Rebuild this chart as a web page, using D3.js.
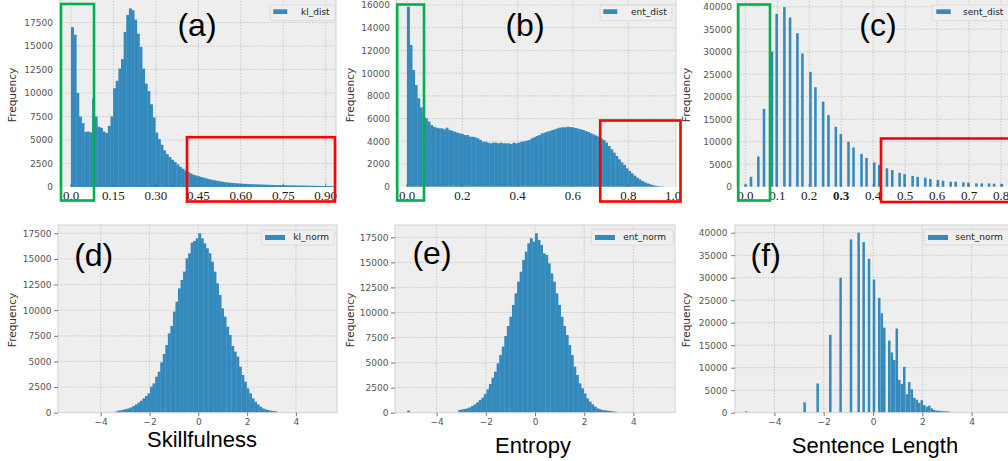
<!DOCTYPE html>
<html>
<head>
<meta charset="utf-8">
<script src="https://cdnjs.cloudflare.com/ajax/libs/d3/7.8.5/d3.min.js"></script>
<style>
    body { margin: 0; background: #fff; }
    svg { display: block; }
</style>
</head>
<body>
<div id="chart"></div>
<script>

// ---- data -------------------------------------------------------------

var seriesNames = ['kl_dist', 'ent_dist', 'sent_dist', 'kl_norm', 'ent_norm', 'sent_norm'];
var panelLetters = ['(a)', '(b)', '(c)', '(d)', '(e)', '(f)'];
var axisTitles = ['Skillfulness', 'Entropy', 'Sentence Length'];

// (a) kl_dist: 100 bins from 0
var klDistBinStart = 0;
var klDistBinWidth = 0.0093;
var klDistCounts = [
    17000, 16200, 10000, 7500, 6800, 5850, 5900, 5800, 9400, 7500,
    6400, 6300, 5900, 5750, 6500, 7500, 10500, 11300, 12600, 13600,
    16500, 18300, 19000, 18800, 17800, 16300, 14900, 12600, 11000, 10200,
    8800, 7400, 5800, 5100, 4500, 3900, 3500, 3200, 2900, 2650,
    2400, 2150, 1950, 1750, 1600, 1450, 1300, 1220, 1150, 1060,
    980, 900, 830, 770, 710, 660, 610, 560, 520, 480,
    450, 430, 400, 380, 360, 340, 330, 310, 300, 290,
    280, 270, 260, 250, 240, 230, 220, 210, 200, 200,
    190, 180, 175, 170, 165, 160, 155, 150, 145, 140,
    135, 130, 125, 120, 115, 110, 105, 100, 95, 90
];
var klDistXTicks = [0, 0.15, 0.30, 0.45, 0.60, 0.75, 0.90];
var klDistXLabels = ['0.0', '0.15', '0.30', '0.45', '0.60', '0.75', '0.90'];
var klDistYTicks = [0, 2500, 5000, 7500, 10000, 12500, 15000, 17500];

// (b) ent_dist: 100 bins from 0
var entDistBinStart = 0;
var entDistBinWidth = 0.0093;
var entDistCounts = [
    15850, 12480, 10280, 8950, 7780, 6990, 6170, 6020, 5730, 5430,
    5280, 5200, 5140, 5140, 5050, 5200, 4990, 4930, 4840, 4760,
    4700, 4640, 4550, 4550, 4400, 4400, 4350, 4260, 4110, 3960,
    3960, 3880, 3820, 3880, 3880, 3820, 3880, 3820, 3820, 3820,
    3760, 3880, 3820, 3880, 3960, 4000, 4050, 4110, 4260, 4350,
    4460, 4550, 4700, 4760, 4840, 4900, 4990, 5050, 5140, 5200,
    5230, 5230, 5280, 5250, 5230, 5170, 5110, 5050, 4990, 4900,
    4810, 4700, 4600, 4500, 4400, 4260, 4110, 3880, 3580, 3290,
    3000, 2700, 2410, 2140, 1910, 1620, 1380, 1170, 970, 790,
    650, 500, 380, 290, 210, 150, 90, 60, 30, 15
];
var entDistXTicks = [0, 0.2, 0.4, 0.6, 0.8, 1.0];
var entDistXLabels = ['0.0', '0.2', '0.4', '0.6', '0.8', '1.0'];
var entDistYTicks = [0, 2000, 4000, 6000, 8000, 10000, 12000, 14000, 16000];

// (c) sent_dist: discrete lengths, bar centres and counts
var sentDistBinWidth = 0.008;
var sentDistValues = [
    0.001, 0.0178, 0.0408, 0.0585, 0.0836, 0.0982, 0.1223, 0.1400, 0.1630, 0.1787,
    0.2038, 0.2194, 0.2435, 0.2602, 0.2832, 0.2989, 0.3229, 0.3386, 0.3636, 0.3793,
    0.4033, 0.4190, 0.4431, 0.4598, 0.4828, 0.4984, 0.5235, 0.5392, 0.5632, 0.5789,
    0.6029, 0.6186, 0.6426, 0.6583, 0.6823, 0.6980, 0.7231, 0.7398, 0.7628, 0.7785,
    0.8025
];
var sentDistCounts = [
    500, 2200, 6700, 17300, 30000, 38400, 39900, 37600, 34100, 29600,
    25500, 22100, 18900, 15900, 13300, 11700, 10000, 8700, 7300, 6400,
    5400, 4800, 4100, 3700, 3100, 2800, 2400, 2200, 2000, 1700,
    1500, 1330, 1100, 1100, 960, 890, 740, 740, 740, 670,
    600
];
var sentDistXTicks = [0, 0.1, 0.2, 0.3, 0.4, 0.5, 0.6, 0.7, 0.8];
var sentDistXLabels = ['0.0', '0.1', '0.2', '0.3', '0.4', '0.5', '0.6', '0.7', '0.8'];
var sentDistYTicks = [0, 5000, 10000, 15000, 20000, 25000, 30000, 35000, 40000];

// (d) kl_norm: bins of 0.104, first non-empty bin at -3.432
var klNormBinStart = -3.432;
var klNormBinWidth = 0.104;
var klNormCounts = [
    100, 200, 230, 290, 360, 420, 520, 650, 810, 980,
    1170, 1400, 1630, 1890, 2540, 2860, 3510, 4000, 4910, 5730,
    6600, 7740, 8460, 9860, 10830, 12130, 12950, 13760, 15060, 15550,
    16590, 16750, 17010, 17500, 17010, 16520, 16040, 15550, 14740, 13760,
    12620, 11480, 10180, 9370, 8390, 7580, 6510, 5950, 5470, 4490,
    3680, 3030, 2370, 1890, 1400, 1070, 810, 590, 420, 330,
    260, 200, 160, 130
];

// (e) ent_norm: bins of 0.104 from -5.2
var entNormBinStart = -5.2;
var entNormBinWidth = 0.104;
var entNormCounts = [
    200, 0, 0, 0, 0, 0, 0, 0, 0, 0,
    0, 0, 0, 0, 0, 0, 0, 0, 0, 0,
    270, 330, 370, 430, 530, 670, 830, 1030, 1260, 1500,
    1860, 2330, 2860, 3490, 4090, 4920, 5750, 6590, 7650, 8650,
    9580, 10750, 11910, 13070, 14070, 15240, 16070, 16900, 17400, 17070,
    17900, 17230, 16730, 15900, 15740, 14900, 13900, 13070, 11910, 10750,
    9580, 8650, 7750, 6750, 5750, 4590, 3760, 2930, 2430, 1930,
    1430, 1100, 830, 600, 430, 330, 270, 230, 200, 170,
    130, 100
];

// (f) sent_norm: bar centres and counts
var sentNormBinWidth = 0.1015;
var sentNormValues = [
    -5.142, -2.774, -2.246, -1.732, -1.313, -0.893, -0.582, -0.379, -0.162, 0.041,
    0.254, 0.356, 0.457, 0.660, 0.762, 0.863, 0.965, 1.066, 1.168, 1.269,
    1.371, 1.472, 1.574, 1.675, 1.777, 1.878, 1.980, 2.081, 2.183, 2.284,
    2.386, 2.487, 2.589, 2.690, 2.792, 2.893, 2.995, 3.096
];
var sentNormCounts = [
    300, 2300, 6500, 17300, 30000, 38500, 40000, 37900, 34200, 29600,
    25500, 22100, 18900, 16000, 13400, 11700, 18700, 7300, 6400, 10200,
    4100, 6800, 5200, 3300, 2900, 2200, 2800, 1700, 1330, 1550,
    960, 600, 450, 440, 370, 300, 300, 220
];

var normXTicks = [-4, -2, 0, 2, 4];
var klNormYTicks = [0, 2500, 5000, 7500, 10000, 12500, 15000, 17500];
var entNormYTicks = [0, 2500, 5000, 7500, 10000, 12500, 15000, 17500];
var sentNormYTicks = [0, 5000, 10000, 15000, 20000, 25000, 30000, 35000, 40000];

// ---- styling ---------------------------------------------------------

var WIDTH = 1008;
var HEIGHT = 461;
var BAR_COLOR = '#348ABD';
var FACE_COLOR = '#eeeeee';
var GRID_COLOR = '#c2c2c2';
var FRAME_COLOR = '#d2d2d2';
var TICK_COLOR = '#555555';
var SANS = '"DejaVu Sans", sans-serif';
var ARIAL = '"Liberation Sans", Arial, sans-serif';
var SERIF = '"Liberation Serif", "Times New Roman", serif';

/**
 * Turn a list of counts on a regular bin grid into bar records.
 */
function denseBins(start, width, counts) {
    return counts.map(function (n, i) {
        return {x0: start + i * width, x1: start + (i + 1) * width, n: n, pad: 0.35};
    });
}

/**
 * Turn bar centres and counts into bar records.
 */
function sparseBins(values, width, counts) {
    return values.map(function (v, i) {
        return {x0: v - width / 2, x1: v + width / 2, n: counts[i], pad: 0};
    });
}

var panels = [
    {
        id: 'a', name: seriesNames[0], letter: panelLetters[0], top: true,
        bins: denseBins(klDistBinStart, klDistBinWidth, klDistCounts),
        box: {left: 60, right: 336, top: -2, bottom: 187},
        xAnchor: [0, 0.9], xPixels: [71, 325.7],
        yAnchor: [0, 17500], yPixels: [187, 22.5],
        xTicks: klDistXTicks, xLabels: klDistXLabels, yTicks: klDistYTicks,
        yLabelGap: 7, freqX: 15.8, freqY: 95,
        letterPos: [197, 36.3],
        legend: {x: 270, y: 5, w: 65, h: 15.7, px: 273.3, pw: 14, py: 9.3, ph: 4.7, tx: 301, ty: 15},
        marks: [
            {color: '#00b04f', x0: 61, y0: 4, x1: 94, y1: 200.5},
            {color: '#ff0000', x0: 187, y0: 137.2, x1: 335, y1: 201.5}
        ]
    },
    {
        id: 'b', name: seriesNames[1], letter: panelLetters[1], top: true,
        bins: denseBins(entDistBinStart, entDistBinWidth, entDistCounts),
        box: {left: 396, right: 676, top: -2, bottom: 187},
        xAnchor: [0, 0.8], xPixels: [407, 628.3],
        yAnchor: [0, 16000], yPixels: [186.7, 5],
        xTicks: entDistXTicks, xLabels: entDistXLabels, yTicks: entDistYTicks,
        yLabelGap: 6, freqX: 354, freqY: 95,
        letterPos: [525, 36.3],
        legend: {x: 600, y: 5, w: 72, h: 15.7, px: 603.3, pw: 14, py: 9.3, ph: 4.7, tx: 631, ty: 15},
        marks: [
            {color: '#00b04f', x0: 397.2, y0: 4.5, x1: 424, y1: 200.5},
            {color: '#ff0000', x0: 600.2, y0: 120.5, x1: 680.5, y1: 201.5}
        ]
    },
    {
        id: 'c', name: seriesNames[2], letter: panelLetters[2], top: true,
        bins: sparseBins(sentDistValues, sentDistBinWidth, sentDistCounts),
        box: {left: 737, right: 1040, top: -2, bottom: 187},
        xAnchor: [0, 0.8], xPixels: [745.3, 1001],
        yAnchor: [0, 40000], yPixels: [186.7, 6.7],
        xTicks: sentDistXTicks, xLabels: sentDistXLabels, yTicks: sentDistYTicks,
        boldLabel: '0.3',
        yLabelGap: 5, freqX: 689.5, freqY: 95,
        letterPos: [878, 36.3],
        legend: {x: 932, y: 5, w: 80, h: 15.7, px: 936.3, pw: 14.4, py: 9.3, ph: 4.7, tx: 963, ty: 15},
        marks: [
            {color: '#00b04f', x0: 738.2, y0: 4.5, x1: 770, y1: 200.5},
            {color: '#ff0000', x0: 881, y0: 138.5, x1: 1012, y1: 202}
        ]
    },
    {
        id: 'd', name: seriesNames[3], letter: panelLetters[3], top: false,
        bins: denseBins(klNormBinStart, klNormBinWidth, klNormCounts),
        box: {left: 58, right: 337, top: 225, bottom: 412.7},
        xAnchor: [0, 2], xPixels: [198.3, 247.1],
        yAnchor: [0, 17500], yPixels: [412.7, 233.3],
        xTicks: normXTicks, yTicks: klNormYTicks,
        yLabelGap: 6.5, freqX: 15.8, freqY: 320,
        letterPos: [93.7, 266.3],
        title: axisTitles[0], titlePos: [202, 447],
        legend: {x: 261.7, y: 230, w: 72.6, h: 15, px: 265, pw: 20, py: 235, ph: 5, tx: 293.3, ty: 240}
    },
    {
        id: 'e', name: seriesNames[4], letter: panelLetters[4], top: false,
        bins: denseBins(entNormBinStart, entNormBinWidth, entNormCounts),
        box: {left: 395, right: 675, top: 225, bottom: 412.7},
        xAnchor: [0, 2], xPixels: [535, 584.2],
        yAnchor: [0, 17500], yPixels: [412.7, 237.3],
        xTicks: normXTicks, yTicks: entNormYTicks,
        yLabelGap: 6.5, freqX: 354, freqY: 320,
        letterPos: [432, 264],
        title: axisTitles[1], titlePos: [533, 453],
        legend: {x: 591.7, y: 229.3, w: 81.6, h: 15.7, px: 595, pw: 20, py: 235, ph: 5, tx: 623.3, ty: 240}
    },
    {
        id: 'f', name: seriesNames[5], letter: panelLetters[5], top: false,
        bins: sparseBins(sentNormValues, sentNormBinWidth, sentNormCounts),
        box: {left: 735, right: 1040, top: 225, bottom: 412.7},
        xAnchor: [0, 2], xPixels: [873, 922.3],
        yAnchor: [0, 40000], yPixels: [412.7, 232.7],
        xTicks: normXTicks, yTicks: sentNormYTicks,
        yLabelGap: 7.5, freqX: 690, freqY: 320,
        letterPos: [765.7, 266.3],
        title: axisTitles[2], titlePos: [875, 453],
        legend: {x: 924, y: 229.3, w: 90, h: 15.7, px: 928, pw: 20, py: 235, ph: 5, tx: 955.3, ty: 240}
    }
];

/**
 * Draw one histogram panel into the svg.
 */
function drawPanel(svg, p) {
    var b = p.box;
    var x = d3.scaleLinear().domain(p.xAnchor).range(p.xPixels);
    var y = d3.scaleLinear().domain(p.yAnchor).range(p.yPixels);

    var g = svg.append('g').attr('class', 'panel panel-' + p.id);

    svg.select('defs').append('clipPath')
            .attr('id', 'clip-' + p.id)
        .append('rect')
            .attr('x', b.left)
            .attr('y', b.top)
            .attr('width', b.right - b.left)
            .attr('height', b.bottom - b.top);

    g.append('rect')
        .attr('x', b.left)
        .attr('y', b.top)
        .attr('width', b.right - b.left)
        .attr('height', b.bottom - b.top)
        .style('fill', FACE_COLOR);

    // dotted grid, under the bars
    var grid = g.append('g')
        .attr('class', 'grid')
        .attr('clip-path', 'url(#clip-' + p.id + ')')
        .style('stroke', GRID_COLOR)
        .style('stroke-width', 0.8)
        .style('stroke-dasharray', '1.6,1.4');

    grid.selectAll('line.gx')
            .data(p.xTicks)
        .enter().append('line')
            .attr('class', 'gx')
            .attr('x1', function (d) { return x(d); })
            .attr('x2', function (d) { return x(d); })
            .attr('y1', b.top)
            .attr('y2', b.bottom);

    grid.selectAll('line.gy')
            .data(p.yTicks.filter(function (d) { return d > 0; }))
        .enter().append('line')
            .attr('class', 'gy')
            .attr('x1', b.left)
            .attr('x2', b.right)
            .attr('y1', function (d) { return y(d); })
            .attr('y2', function (d) { return y(d); });

    g.append('g')
            .attr('class', 'bars')
            .attr('clip-path', 'url(#clip-' + p.id + ')')
        .selectAll('rect')
            .data(p.bins.filter(function (d) { return d.n > 0; }))
        .enter().append('rect')
            .attr('x', function (d) { return x(d.x0); })
            .attr('width', function (d) { return x(d.x1) - x(d.x0) + d.pad; })
            .attr('y', function (d) { return y(d.n); })
            .attr('height', function (d) { return y(0) - y(d.n); })
            .style('fill', BAR_COLOR);

    // light frame
    var frame = g.append('g')
        .style('stroke', FRAME_COLOR)
        .style('stroke-width', 1)
        .style('fill', 'none');
    if (p.top) {
        frame.append('path')
            .attr('d', 'M' + b.left + ',' + b.bottom + 'V' + b.top +
                'M' + b.right + ',' + b.top + 'V' + b.bottom);
    } else {
        frame.append('rect')
            .attr('x', b.left)
            .attr('y', b.top)
            .attr('width', b.right - b.left)
            .attr('height', b.bottom - b.top);
    }

    // y axis
    var yAxis = d3.axisLeft(y)
        .tickValues(p.yTicks)
        .tickFormat(d3.format('d'))
        .tickSizeOuter(0)
        .tickSizeInner(p.top ? 0 : 4)
        .tickPadding(p.top ? p.yLabelGap : p.yLabelGap - 4);

    var ya = g.append('g')
        .attr('class', 'y axis')
        .attr('transform', 'translate(' + b.left + ',0)')
        .call(yAxis);
    ya.select('.domain').remove();
    ya.selectAll('line').style('stroke', TICK_COLOR).style('stroke-width', 0.8);
    ya.selectAll('text')
        .style('font-family', SANS)
        .style('font-size', '9px')
        .style('fill', TICK_COLOR);

    // x axis
    if (p.top) {
        // serif labels under the plot, inward tick marks
        g.append('g')
                .style('stroke', '#666')
                .style('stroke-width', 0.8)
            .selectAll('line')
                .data(p.xTicks.filter(function (d) { return x(d) <= b.right; }))
            .enter().append('line')
                .attr('x1', function (d) { return x(d); })
                .attr('x2', function (d) { return x(d); })
                .attr('y1', b.bottom - 3.5)
                .attr('y2', b.bottom);

        g.append('g')
            .selectAll('text')
                .data(p.xTicks)
            .enter().append('text')
                .attr('x', function (d) { return Math.min(x(d), b.right - 3); })
                .attr('y', b.bottom + 12.5)
                .attr('text-anchor', 'middle')
                .style('font-family', SERIF)
                .style('font-size', '13px')
                .style('font-weight', function (d, i) {
                    return p.xLabels[i] === p.boldLabel ? 'bold' : 'normal';
                })
                .style('fill', '#1a1a1a')
                .text(function (d, i) { return p.xLabels[i]; });
    } else {
        var xAxis = d3.axisBottom(x)
            .tickValues(p.xTicks)
            .tickFormat(d3.format('d'))
            .tickSizeOuter(0)
            .tickSizeInner(3.5)
            .tickPadding(2.5);
        var xa = g.append('g')
            .attr('class', 'x axis')
            .attr('transform', 'translate(0,' + b.bottom + ')')
            .call(xAxis);
        xa.select('.domain').remove();
        xa.selectAll('line').style('stroke', TICK_COLOR).style('stroke-width', 0.8);
        xa.selectAll('text')
            .style('font-family', SANS)
            .style('font-size', '9px')
            .style('fill', TICK_COLOR);

        g.append('text')
            .attr('x', p.titlePos[0])
            .attr('y', p.titlePos[1])
            .attr('text-anchor', 'middle')
            .style('font-family', ARIAL)
            .style('font-size', '22px')
            .style('fill', '#000')
            .text(p.title);
    }

    g.append('text')
        .attr('transform', 'translate(' + p.freqX + ',' + p.freqY + ') rotate(-90)')
        .attr('text-anchor', 'middle')
        .style('font-family', SANS)
        .style('font-size', '10.5px')
        .style('fill', '#333')
        .text('Frequency');

    // legend
    var lg = p.legend;
    var legend = g.append('g').attr('class', 'legend');
    legend.append('rect')
        .attr('x', lg.x)
        .attr('y', lg.y)
        .attr('width', lg.w)
        .attr('height', lg.h)
        .attr('rx', 2)
        .style('fill', '#efefef')
        .style('stroke', '#d6d6d6')
        .style('stroke-width', 0.8);
    legend.append('rect')
        .attr('x', lg.px)
        .attr('y', lg.py)
        .attr('width', lg.pw)
        .attr('height', lg.ph)
        .style('fill', BAR_COLOR);
    legend.append('text')
        .attr('x', lg.tx)
        .attr('y', lg.ty)
        .style('font-family', SANS)
        .style('font-size', '9px')
        .style('fill', '#222')
        .text(p.name);

    g.append('text')
        .attr('x', p.letterPos[0])
        .attr('y', p.letterPos[1])
        .attr('text-anchor', 'middle')
        .style('font-family', ARIAL)
        .style('font-size', '32px')
        .style('fill', '#000')
        .text(p.letter);

    // green / red highlight boxes
    g.selectAll('rect.mark')
            .data(p.marks || [])
        .enter().append('rect')
            .attr('class', 'mark')
            .attr('x', function (d) { return d.x0; })
            .attr('y', function (d) { return d.y0; })
            .attr('width', function (d) { return d.x1 - d.x0; })
            .attr('height', function (d) { return d.y1 - d.y0; })
            .style('fill', 'none')
            .style('stroke', function (d) { return d.color; })
            .style('stroke-width', 2.6);
}

var svg = d3.select('#chart').append('svg')
    .attr('width', WIDTH)
    .attr('height', HEIGHT)
    .style('background', '#fff');

svg.append('defs');

panels.forEach(function (p) {
    drawPanel(svg, p);
});

</script>
</body>
</html>
